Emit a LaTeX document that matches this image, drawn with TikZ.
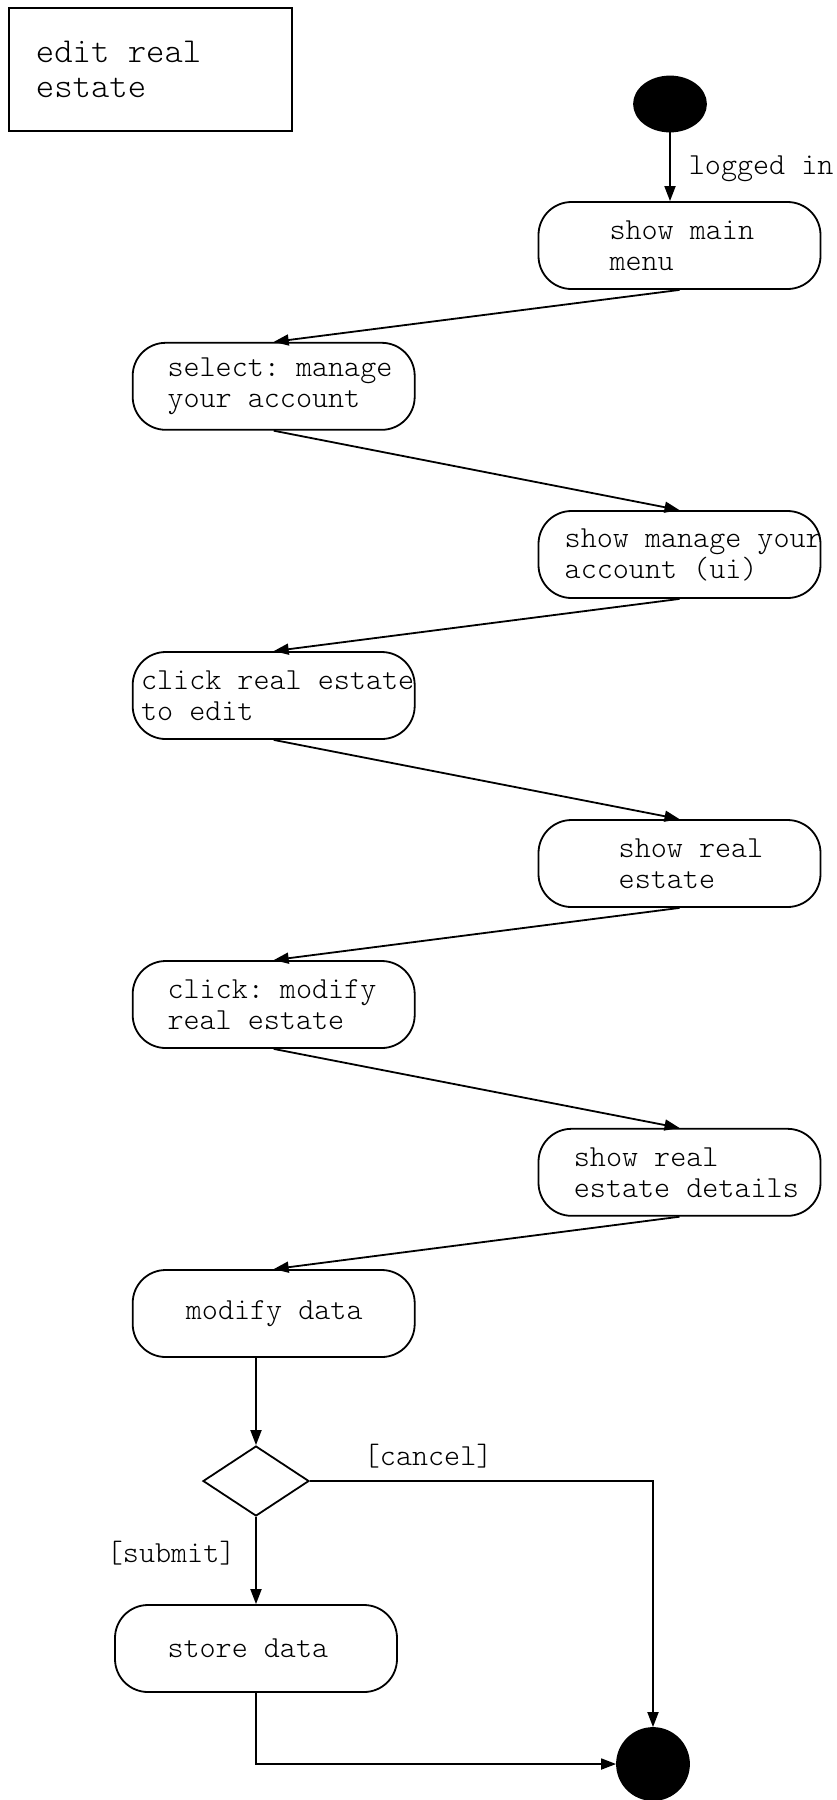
\documentclass[tikz,border=0pt]{standalone}
\usepackage{fontspec}
\setmonofont{Latin Modern Mono Light}
\usetikzlibrary{arrows.meta,shapes.geometric}
\begin{document}
\begin{tikzpicture}[x=1pt,y=-1pt,
  line width=1.8pt,
  every node/.style={inner sep=0pt},
  act/.style={draw, rounded corners=33pt, minimum width=282pt, minimum height=87pt},
  lbl/.style={font=\ttfamily\fontsize{30.6}{31}\selectfont, align=left, anchor=west},
  titlebox/.style={draw, rectangle, minimum width=283pt, minimum height=123pt},
  titletext/.style={font=\ttfamily\fontsize{35}{35.6}\selectfont, align=left, anchor=west},
  flow/.style={-{Triangle[length=15pt,width=11pt]}},
  ]
\useasboundingbox (0,0) rectangle (837,1800);

% frame title
\node[titlebox] (title) at (150.5,69.5) {};
\node[titletext] (titletxt) at (35,69.5) {edit real\\estate};

% start and end states
\node[draw, fill, ellipse, minimum width=72pt, minimum height=55pt] (start) at (670,104) {};
\node[draw, fill, circle, minimum size=72pt] (stop) at (653,1764) {};

% activities
\node[act] (sm)  at (679.5,245.5)  {};
\node[act] (sel) at (273.7,386.3)  {};
\node[act] (smy) at (679.5,554.5)  {};
\node[act] (cre) at (273.7,695.5)  {};
\node[act] (sre) at (679.5,863.5)  {};
\node[act] (cmr) at (273.7,1004.5) {};
\node[act] (srd) at (679.5,1172.3) {};
\node[act] (mod) at (273.7,1313.5) {};
\node[act] (sto) at (256,1648.5)   {};
\node[draw, diamond, minimum width=106pt, minimum height=70pt] (dec) at (256,1481) {};

% activity texts
\node[lbl] (t1) at (608.6,245.5)  {show main\\menu};
\node[lbl] (t2) at (166.6,386.3)  {select: manage\\your account};
\node[lbl] (t3) at (563.8,554.5)  {show manage your\\account (ui)};
\node[lbl] (t4) at (140.2,695.5)  {click real estate\\to edit};
\node[lbl] (t5) at (617.8,863.5)  {show real\\estate};
\node[lbl] (t6) at (166.6,1004.5) {click: modify\\real estate};
\node[lbl] (t7) at (573,1172.3)   {show real\\estate details};
\node[lbl] (t8) at (185,1313.5)   {modify data};
\node[lbl] (t9) at (166.6,1648.5) {store data};

% transition labels
\node[lbl] (lg) at (688,169)   {logged in};
\node[lbl] (lc) at (363,1456)  {[cancel]};
\node[lbl] (ls) at (106,1553)  {[submit]};

% transitions
\draw[flow] (start.south) -- (start.south |- sm.north);
\draw[flow] (sm.south)  -- (sel.north);
\draw[flow] (sel.south) -- (smy.north);
\draw[flow] (smy.south) -- (cre.north);
\draw[flow] (cre.south) -- (sre.north);
\draw[flow] (sre.south) -- (cmr.north);
\draw[flow] (cmr.south) -- (srd.north);
\draw[flow] (srd.south) -- (mod.north);
\draw[flow] (mod.south -| dec.north) -- (dec.north);
\draw[flow] (dec.east) -| (stop.north);
\draw[flow] (dec.south) -- (sto.north);
\draw[flow] (sto.south) |- (stop.west);
\end{tikzpicture}
\end{document}
